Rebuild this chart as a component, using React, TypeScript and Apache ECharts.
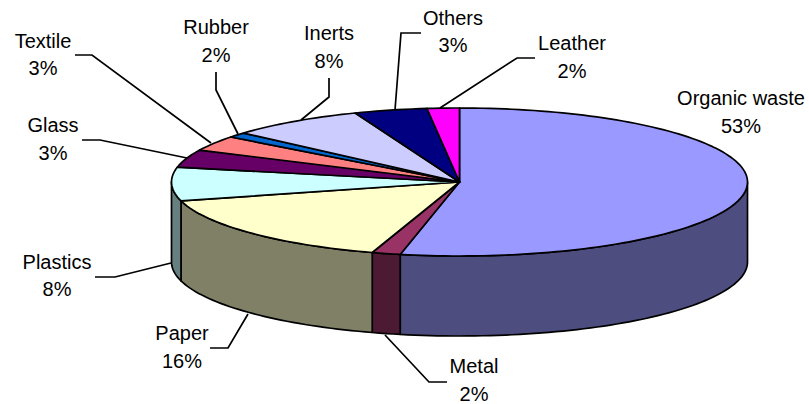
import React, { useEffect, useRef } from "react";
import * as echarts from "echarts";

const categories = ["Organic waste", "Metal", "Paper", "Plastics", "Glass", "Textile", "Rubber", "Inerts", "Others", "Leather"];
// Printed percentages
const percentLabels = [53, 2, 16, 8, 3, 3, 2, 8, 3, 2];
const sliceShares = [53.3, 1.6, 16.0, 7.3, 3.9, 3.3, 1.1, 7.6, 4.1, 1.8];
const topColors = ["#9999FF", "#993366", "#FFFFCC", "#CCFFFF", "#660066", "#FF8080", "#0066CC", "#CCCCFF", "#000080", "#FF00FF"];
const sideColors = ["#4D4D80", "#4D1A33", "#808066", "#668080", "#330033", "#804040", "#003366", "#666680", "#000040", "#800080"];

// Layout
const PIE = { cx: 459.5, cy: 182, rx: 288, ry: 74, depth: 80 };
const labelCentres = [[741, 112], [474, 380], [182, 347], [57, 275.5], [53, 139], [43, 54.5], [216, 41], [329, 47], [453, 31.5], [572, 57]];
const leaders: number[][][] = [
  [],
  [[447, 382], [429, 382], [385, 335]],
  [[210, 348], [228, 348], [248, 314]],
  [[95, 277], [115, 277], [171, 263]],
  [[82, 140], [100, 140], [187, 158]],
  [[75, 55], [92, 55], [211, 143]],
  [[216, 72], [216, 90], [238, 134]],
  [[329, 78], [329, 97], [301, 120]],
  [[421, 33], [401, 33], [395, 110]],
  [[535, 58], [517, 58], [440, 108]],
];

const FONT = '"Liberation Sans", Arial, sans-serif';
const LINE = 1.7;

const total = sliceShares.reduce((a, b) => a + b, 0);
let acc = 0;
const sliceData = sliceShares.map((v, i) => {
  const start = (acc / total) * 360;
  acc += v;
  return { value: [start, (acc / total) * 360, i], name: categories[i] };
});

const rimPoint = (deg: number, dy = 0) => {
  const t = (deg * Math.PI) / 180;
  return [PIE.cx + PIE.rx * Math.sin(t), PIE.cy - PIE.ry * Math.cos(t) + dy];
};
const arcPoints = (a: number, b: number, dy = 0) => {
  const n = Math.max(2, Math.ceil(Math.abs(b - a) / 1.5));
  const pts: number[][] = [];
  for (let k = 0; k <= n; k++) pts.push(rimPoint(a + ((b - a) * k) / n, dy));
  return pts;
};

const renderSide = (_: any, api: any) => {
  const a = Math.max(api.value(0), 90);
  const b = Math.min(api.value(1), 270);
  if (a >= b) return { type: "group", children: [] };
  const i = api.value(2);
  const pts = [...arcPoints(a, b), ...arcPoints(b, a, PIE.depth)].map((p) => api.coord(p));
  return {
    type: "polygon",
    shape: { points: pts },
    style: { fill: sideColors[i], stroke: "#000", lineWidth: LINE, lineJoin: "round" },
  };
};

const renderTop = (_: any, api: any) => {
  const i = api.value(2);
  const pts = [[PIE.cx, PIE.cy], ...arcPoints(api.value(0), api.value(1))].map((p) => api.coord(p));
  return {
    type: "polygon",
    shape: { points: pts },
    style: { fill: topColors[i], stroke: "#000", lineWidth: LINE, lineJoin: "round" },
  };
};

const renderLabel = (_: any, api: any) => {
  const i = api.value(2);
  const [x, y] = api.coord(labelCentres[i]);
  const children: any[] = [
    {
      type: "text",
      x,
      y,
      style: {
        text: `${categories[i]}\n${percentLabels[i]}%`,
        fill: "#000",
        font: `20px ${FONT}`,
        lineHeight: 27.5,
        align: "center",
        verticalAlign: "middle",
      },
    },
  ];
  if (leaders[i].length) {
    children.push({
      type: "polyline",
      shape: { points: leaders[i].map((p) => api.coord(p)) },
      style: { fill: "none", stroke: "#000", lineWidth: LINE },
    });
  }
  return { type: "group", children };
};

export default function App() {
  const ref = useRef<HTMLDivElement>(null);
  useEffect(() => {
    const chart = echarts.init(ref.current!, null, { renderer: "svg" });
    const base = { type: "custom", coordinateSystem: "cartesian2d", data: sliceData, clip: false, silent: true, encode: { x: 0, y: 1 } };
    chart.setOption({
      animation: false,
      backgroundColor: "#fff",
      grid: { left: 0, right: 0, top: 0, bottom: 0 },
      xAxis: { type: "value", min: 0, max: 809, show: false },
      yAxis: { type: "value", min: 0, max: 404, inverse: true, show: false },
      series: [
        { ...base, renderItem: renderSide, z: 1 },
        { ...base, renderItem: renderTop, z: 2 },
        { ...base, renderItem: renderLabel, z: 3 },
      ],
    });
    return () => chart.dispose();
  }, []);
  return <div ref={ref} style={{ position: "absolute", left: 0, top: 0, width: 809, height: 404 }} />;
}
